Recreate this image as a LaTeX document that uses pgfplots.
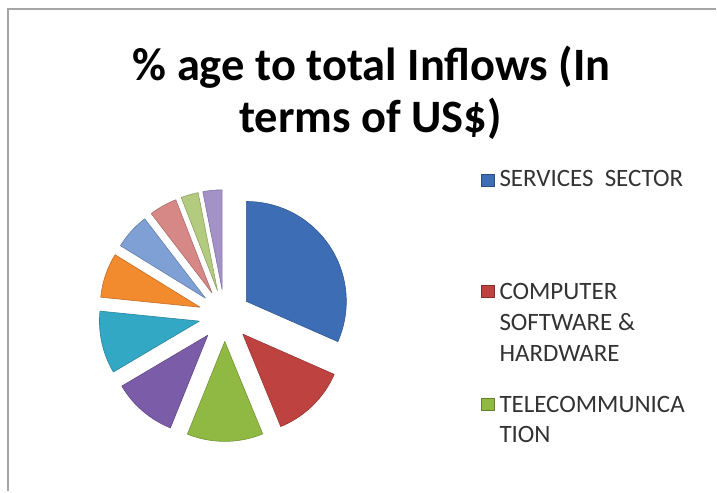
\documentclass[border=0pt]{standalone}
\usepackage{fontspec}
\setmainfont{Carlito}
\usepackage{pgfplots}
\usepackage{pgfplotstable}
\pgfplotsset{compat=1.18}

\definecolor{pc0}{HTML}{3D6EB5}
\definecolor{pc1}{HTML}{BE4340}
\definecolor{pc2}{HTML}{90B944}
\definecolor{pc3}{HTML}{7B5CA8}
\definecolor{pc4}{HTML}{33A8C4}
\definecolor{pc5}{HTML}{F28A2E}
\definecolor{pc6}{HTML}{7EA0D4}
\definecolor{pc7}{HTML}{D68886}
\definecolor{pc8}{HTML}{B2CB7E}
\definecolor{pc9}{HTML}{A491C6}
\definecolor{frame}{HTML}{A6A6A6}
\definecolor{legtext}{HTML}{333333}

% share (%) of each sector, in Excel order (clockwise from 12 o'clock)
\pgfplotstableread{
idx value
0 31.6
1 12.2
2 12.3
3 10.4
4 10.1
5 7.2
6 5.8
7 4.5
8 2.8
9 3.1
}\piedata

% pie geometry (picture units = pixels of the 717x492 reference, y upwards)
\def\cx{225}\def\cy{176}\def\R{100}\def\off{26}

\def\cumsum{0}
\pgfplotsforeachungrouped \i in {0,...,9}{%
  \pgfplotstablegetelem{\i}{value}\of\piedata
  \pgfmathsetmacro\start{90-3.6*\cumsum}%
  \pgfmathsetmacro\cumsum{\cumsum+\pgfplotsretval}%
  \pgfmathsetmacro\stop{90-3.6*\cumsum}%
  \pgfmathsetmacro\mid{(\start+\stop)/2}%
  \pgfmathsetmacro\ax{\cx+\off*cos(\mid)}%
  \pgfmathsetmacro\ay{\cy+\off*sin(\mid)}%
  \expandafter\xdef\csname pieA\i\endcsname{\stop}%
  \expandafter\xdef\csname pieB\i\endcsname{\start}%
  \expandafter\xdef\csname pieX\i\endcsname{\ax}%
  \expandafter\xdef\csname pieY\i\endcsname{\ay}%
}

\begin{document}
\begin{tikzpicture}
\begin{axis}[
  scale only axis, width=717bp, height=492bp,
  xmin=0, xmax=717, ymin=0, ymax=492,
  axis lines=none, clip=false,
]
\path (axis cs:0,0) rectangle (axis cs:717,492);
% frame
\draw[frame, line width=2bp] (axis cs:8,0) -- (axis cs:8,483) -- (axis cs:717,483);

% slices
\pgfplotsinvokeforeach{0,...,9}{
  \addplot[fill=pc#1, draw=pc#1!80!black, line width=0.6bp, line join=round,
    domain=\csname pieA#1\endcsname:\csname pieB#1\endcsname, samples=60]
    ({\csname pieX#1\endcsname+\R*cos(x)}, {\csname pieY#1\endcsname+\R*sin(x)})
    -- (axis cs:\csname pieX#1\endcsname,\csname pieY#1\endcsname) -- cycle;
}

% title
\node[anchor=base, font=\fontsize{46.5bp}{53bp}\selectfont\bfseries] at (axis cs:372,411) {\% age to total Inflows (In};
\node[anchor=base, font=\fontsize{46.5bp}{53bp}\selectfont\bfseries] at (axis cs:371,359) {terms of US\$)};

% legend
\node[fill=pc0, draw=pc0!70!black, line width=0.4bp, minimum width=13bp, minimum height=12bp, inner sep=0pt] at (axis cs:488,312) {};
\node[anchor=base west, inner sep=0pt, text=legtext, font=\fontsize{25bp}{30.5bp}\selectfont] at (axis cs:500,305) {SERVICES\ \ SECTOR};

\node[fill=pc1, draw=pc1!70!black, line width=0.4bp, minimum width=13bp, minimum height=12bp, inner sep=0pt] at (axis cs:488,200) {};
\node[anchor=base west, inner sep=0pt, text=legtext, font=\fontsize{25bp}{30.5bp}\selectfont] at (axis cs:500,192) {COMPUTER};
\node[anchor=base west, inner sep=0pt, text=legtext, font=\fontsize{25bp}{30.5bp}\selectfont] at (axis cs:500,161) {SOFTWARE \&};
\node[anchor=base west, inner sep=0pt, text=legtext, font=\fontsize{25bp}{30.5bp}\selectfont] at (axis cs:500,130) {HARDWARE};

\node[fill=pc2, draw=pc2!70!black, line width=0.4bp, minimum width=13bp, minimum height=12bp, inner sep=0pt] at (axis cs:488,87) {};
\node[anchor=base west, inner sep=0pt, text=legtext, font=\fontsize{25bp}{30.5bp}\selectfont] at (axis cs:500,79) {TELECOMMUNICA};
\node[anchor=base west, inner sep=0pt, text=legtext, font=\fontsize{25bp}{30.5bp}\selectfont] at (axis cs:500,49) {TION};
\end{axis}
\end{tikzpicture}
\end{document}
